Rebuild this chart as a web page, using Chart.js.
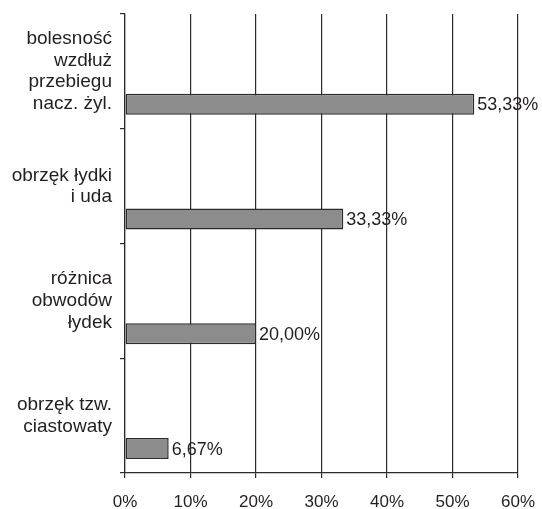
<!DOCTYPE html>
<html>
<head>
<meta charset="utf-8">
<script src="https://cdn.jsdelivr.net/npm/chart.js@4"></script>
<style>
  html, body { margin: 0; padding: 0; background: #fff; }
  #wrap { width: 542px; height: 509px; }
</style>
</head>
<body>
<div id="wrap"><canvas id="myChart"></canvas></div>
<script>
const categories = [
  ['bolesność', 'wzdłuż', 'przebiegu', 'nacz. żyl.'],
  ['obrzęk łydki', 'i uda'],
  ['różnica', 'obwodów', 'łydek'],
  ['obrzęk tzw.', 'ciastowaty']
];
const values = [53.33, 33.33, 20.00, 6.67];
const valueLabels = ['53,33%', '33,33%', '20,00%', '6,67%'];
const xTicks = [0, 10, 20, 30, 40, 50, 60];

const ink = '#231f20';
const ctx = document.getElementById('myChart');

// writes the percentage next to the end of each bar
const barLabels = {
  id: 'barLabels',
  afterDatasetsDraw(chart) {
    const c = chart.ctx;
    const meta = chart.getDatasetMeta(2);
    c.save();
    c.font = '18px "Liberation Sans", Arial, sans-serif';
    c.fillStyle = ink;
    c.textAlign = 'left';
    c.textBaseline = 'middle';
    meta.data.forEach((bar, i) => {
      c.fillText(valueLabels[i], bar.x + 3, bar.y + 1);
    });
    c.restore();
  }
};

new Chart(ctx, {
  type: 'bar',
  data: {
    labels: categories,
    datasets: [
      // two empty sets so the real bar sits low in each band
      { data: values.map(() => null) },
      { data: values.map(() => null) },
      {
        data: values,
        backgroundColor: '#8c8c8c',
        borderColor: '#2b2b2b',
        borderWidth: 1.5,
        borderSkipped: false
      }
    ]
  },
  options: {
    indexAxis: 'y',
    responsive: true,
    maintainAspectRatio: false,
    animation: false,
    categoryPercentage: 0.861,
    barPercentage: 0.636,
    layout: { padding: { top: 14, right: 24, left: 0, bottom: 0 } },
    plugins: {
      legend: { display: false },
      tooltip: { enabled: false }
    },
    scales: {
      x: {
        min: 0,
        max: 60,
        afterBuildTicks(scale) {
          scale.ticks = xTicks.map(v => ({ value: v }));
        },
        afterFit(scale) {
          scale.height = 36;
          scale.paddingLeft = 0;
          scale.paddingRight = 0;
        },
        ticks: {
          callback: v => v + '%',
          color: ink,
          padding: 14,
          maxRotation: 0,
          font: { family: '"Liberation Sans", Arial, sans-serif', size: 17 }
        },
        grid: { color: '#2b2b2b', lineWidth: 1.2, tickLength: 5 },
        border: { color: '#2b2b2b', width: 1.2 }
      },
      y: {
        offset: true,
        afterFit(scale) {
          scale.width = 125;
          scale.paddingTop = 0;
          scale.paddingBottom = 0;
        },
        ticks: {
          color: ink,
          padding: 8,
          font: { family: '"Liberation Sans", Arial, sans-serif', size: 19, lineHeight: 1.14 }
        },
        grid: {
          offset: true,
          drawOnChartArea: false,
          color: '#2b2b2b',
          lineWidth: 1.2,
          tickLength: 5
        },
        border: { color: '#2b2b2b', width: 1.2 }
      }
    }
  },
  plugins: [barLabels]
});
</script>
</body>
</html>
